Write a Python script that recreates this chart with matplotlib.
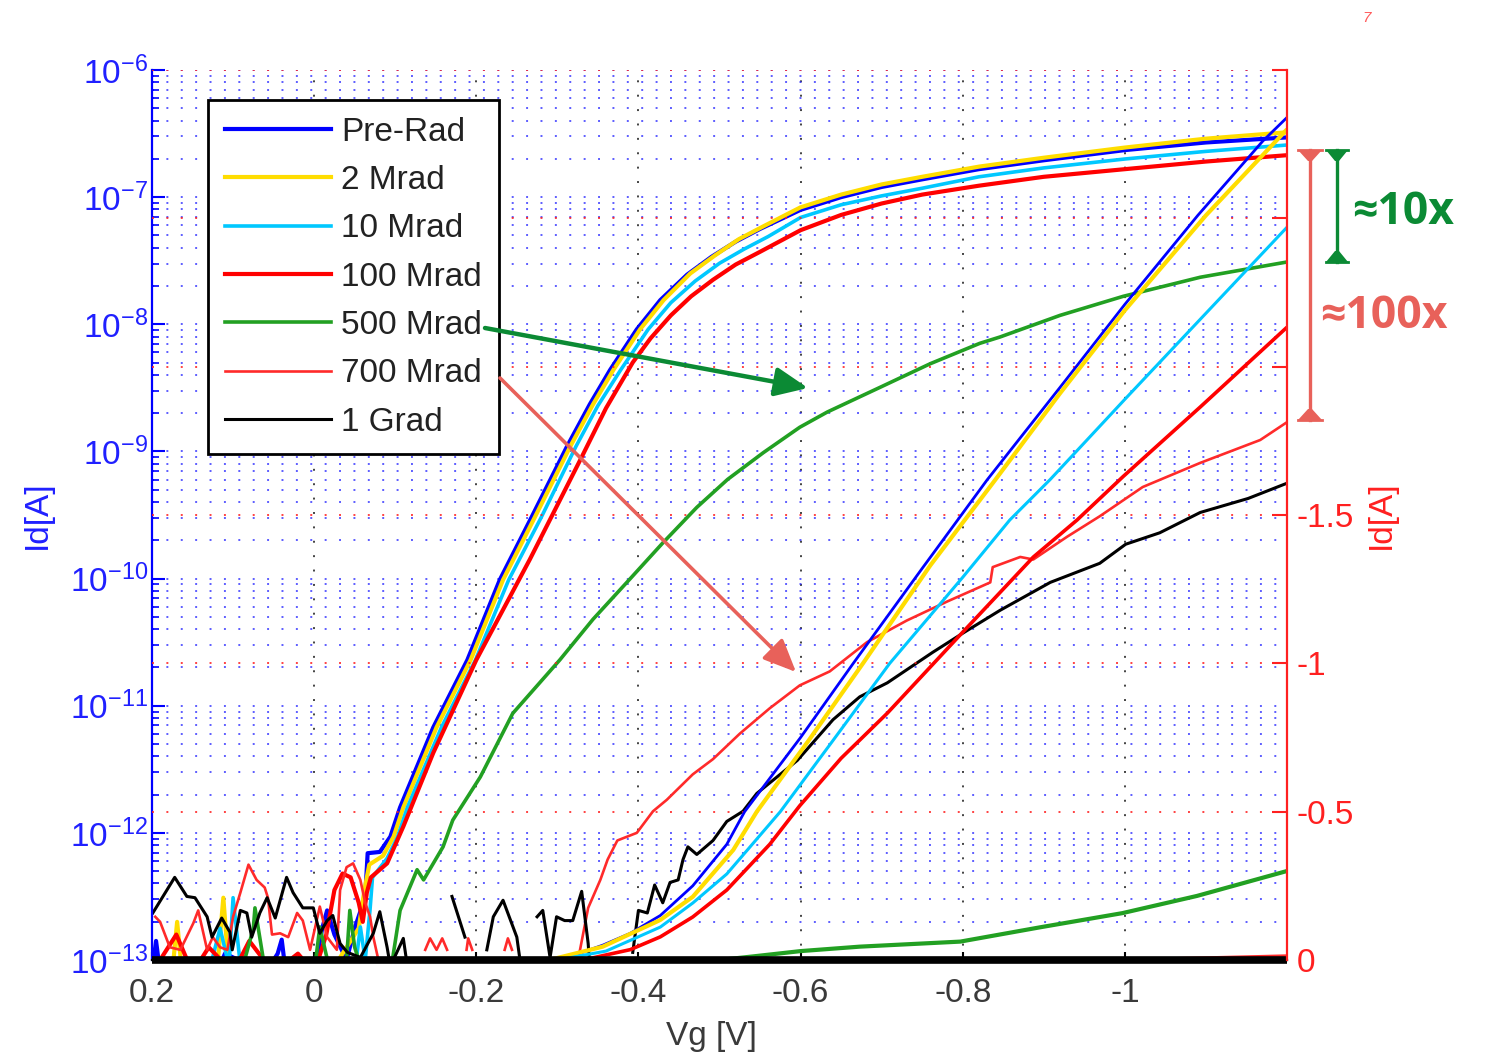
import numpy as np
import matplotlib
matplotlib.use('Agg')
import matplotlib.pyplot as plt
from matplotlib.lines import Line2D
from matplotlib.patches import FancyArrowPatch, Polygon
from matplotlib.ticker import LogLocator, NullFormatter

plt.rcParams['font.family'] = ['Liberation Sans', 'DejaVu Sans']
plt.rcParams['axes.unicode_minus'] = False
plt.rcParams['mathtext.fontset'] = 'custom'
plt.rcParams['mathtext.rm'] = 'Liberation Sans'
plt.rcParams['mathtext.default'] = 'regular'

nan = np.nan

# ---------------- data: log10(Id) on left (log) axis ----------------
labels = ['Pre-Rad', '2 Mrad', '10 Mrad', '100 Mrad', '500 Mrad', '700 Mrad', '1 Grad']

prerad_log_vg = [0.2, 0.195, 0.19, 0.18, 0.12, 0.11, 0.06, 0.045, 0.04, 0.035,
                 0.0, -0.01, -0.016, -0.025, -0.04, -0.05, -0.058, -0.063,
                 -0.066, -0.081, -0.094, -0.106, -0.147, -0.189, -0.229, -0.268, -0.312, -0.34, -0.365,
                 -0.398, -0.427, -0.46, -0.49, -0.52, -0.55, -0.60, -0.65, -0.70, -0.75, -0.82,
                 -0.9, -1.0, -1.1, -1.2]
prerad_log_id = [-13.1, -12.85, -13.1, -13.1, -13.1, -12.95, -13.1, -12.95, -12.84, -13.1,
                 -13.1, -12.75, -12.61, -12.8, -13.0, -12.75, -12.6, -12.5,
                 -12.16, -12.15, -12.03, -11.80, -11.17, -10.64, -10.01, -9.52, -8.96, -8.63, -8.36,
                 -8.04, -7.81, -7.61, -7.47, -7.35, -7.25, -7.10, -7.00, -6.92, -6.86, -6.78,
                 -6.71, -6.63, -6.57, -6.53]

mrad2_log_vg = [0.2, 0.175, 0.169, 0.163, 0.12, 0.112, 0.105, 0.06, 0.0, -0.03, -0.055, -0.062,
                -0.068, -0.085, -0.098, -0.11, -0.151, -0.193, -0.233, -0.272, -0.316, -0.344, -0.369,
                -0.402, -0.431, -0.464, -0.494, -0.524, -0.554, -0.60, -0.65, -0.70, -0.75, -0.82,
                -0.9, -1.0, -1.1, -1.2]
mrad2_log_id = [-13.1, -13.1, -12.70, -13.1, -13.1, -12.51, -13.1, -13.1, -13.1, -13.0, -12.75, -12.45,
                -12.25, -12.18, -12.03, -11.80, -11.17, -10.64, -10.01, -9.52, -8.96, -8.63, -8.36,
                -8.04, -7.81, -7.60, -7.46, -7.33, -7.23, -7.08, -6.98, -6.90, -6.84, -6.76,
                -6.69, -6.61, -6.54, -6.49]

mrad10_log_vg = [0.2, 0.13, 0.116, 0.105, 0.1, 0.09, 0.0, -0.05, -0.057, -0.063, -0.069,
                 -0.072, -0.09, -0.103, -0.115, -0.157, -0.199, -0.24, -0.28, -0.323, -0.35, -0.378,
                 -0.412, -0.44, -0.47, -0.50, -0.53, -0.56, -0.60, -0.65, -0.70, -0.75, -0.82,
                 -0.9, -1.0, -1.1, -1.2]
mrad10_log_id = [-13.1, -13.1, -12.75, -13.05, -12.51, -13.1, -13.1, -13.1, -12.74, -13.0, -12.6,
                 -12.35, -12.2, -12.03, -11.80, -11.17, -10.64, -10.01, -9.52, -8.96, -8.64, -8.36,
                 -8.04, -7.83, -7.66, -7.52, -7.41, -7.31, -7.16, -7.06, -6.99, -6.93, -6.84,
                 -6.77, -6.70, -6.64, -6.59]

mrad100_log_vg = [0.2, 0.17, 0.15, 0.13, 0.1, 0.08, 0.05, 0.02, 0.0, -0.015, -0.025, -0.035,
                  -0.045, -0.055, -0.06, -0.065, -0.07, -0.09, -0.11, -0.147, -0.2, -0.266,
                  -0.328, -0.36, -0.393, -0.415, -0.44, -0.465, -0.492, -0.52, -0.55, -0.6, -0.65,
                  -0.7, -0.75, -0.82, -0.9, -1.0, -1.1, -1.2]
mrad100_log_id = [-13.1, -12.8, -13.1, -12.9, -13.1, -12.85, -13.1, -12.95, -13.1, -12.8, -12.45, -12.32,
                  -12.35, -12.55, -12.7, -12.47, -12.35, -12.24, -11.95, -11.37, -10.64, -9.85,
                  -9.07, -8.66, -8.30, -8.11, -7.93, -7.78, -7.65, -7.53, -7.43, -7.26, -7.14,
                  -7.05, -6.98, -6.91, -6.84, -6.78, -6.72, -6.67]

mrad500_log_vg = [0.2, 0.15, 0.09, 0.075, 0.073, 0.06, 0.0, -0.007, -0.02, -0.04, -0.044, -0.05,
                  -0.06, -0.09, -0.097, -0.106, -0.127, -0.135, -0.159, -0.171, -0.205, -0.245,
                  -0.303, -0.344, -0.39, -0.43, -0.472, -0.51, -0.554, -0.599, -0.633, -0.70,
                  -0.76, -0.821, -0.846, -0.92, -0.998, -1.093, -1.2]
mrad500_log_id = [-13.1, -13.1, -13.1, -12.75, -12.59, -13.1, -13.1, -12.74, -13.1, -13.0, -12.61, -12.9,
                  -13.1, -13.1, -12.98, -12.61, -12.29, -12.37, -12.11, -11.90, -11.56, -11.06,
                  -10.64, -10.32, -10.0, -9.72, -9.44, -9.22, -9.01, -8.81, -8.69, -8.49,
                  -8.31, -8.15, -8.10, -7.93, -7.78, -7.63, -7.51]

mrad700_log_vg = [0.196, 0.190, 0.178, 0.165, 0.149, 0.143, 0.132, 0.125, 0.116, 0.107, 0.100,
                  0.091, 0.081, 0.071, 0.061, 0.057, 0.052, 0.042, 0.032, 0.021, 0.014, 0.005,
                  -0.007, -0.016, -0.028, -0.032, -0.040, -0.048, -0.057, -0.063, -0.069, -0.073,
                  -0.081, nan, -0.137, -0.143, -0.151, -0.158, -0.164, nan, -0.188, -0.190, -0.195,
                  nan, -0.235, -0.239, -0.244, nan, -0.324, -0.338, -0.353, -0.362, -0.374, -0.398,
                  -0.418, -0.435, -0.467, -0.492, -0.525, -0.562, -0.599, -0.636, -0.682, -0.731,
                  -0.781, -0.834, -0.837, -0.871, -0.887, -0.929, -0.969, -1.022, -1.093, -1.167, -1.2]
mrad700_log_id = [-12.66, -12.70, -12.90, -12.92, -12.71, -12.61, -12.92, -12.82, -12.90, -12.92, -12.66,
                  -12.47, -12.25, -12.37, -12.43, -12.51, -12.80, -12.79, -12.82, -12.63, -12.69, -12.92,
                  -12.58, -12.82, -12.92, -12.45, -12.27, -12.24, -12.37, -12.55, -12.66, -12.82,
                  -13.05, nan, -12.92, -12.83, -12.92, -12.83, -12.92, nan, -12.92, -12.83, -12.92,
                  nan, -12.92, -12.83, -12.92, nan, -13.05, -12.59, -12.37, -12.21, -12.06, -12.0,
                  -11.83, -11.74, -11.54, -11.42, -11.22, -11.02, -10.84, -10.73, -10.50, -10.33,
                  -10.18, -10.03, -9.91, -9.83, -9.85, -9.67, -9.51, -9.28, -9.09, -8.91, -8.77]

grad1_log_vg = [0.199, 0.172, 0.157, 0.147, 0.132, 0.126, 0.114, 0.104, 0.101, 0.091, 0.083,
                0.077, 0.067, 0.058, 0.048, 0.034, 0.026, 0.014, 0.001, -0.007, -0.016, -0.023,
                -0.032, -0.041, -0.057, -0.073, -0.081, -0.090, -0.094, -0.110, -0.115, nan,
                -0.170, -0.186, nan, -0.213, -0.221, -0.233, -0.250, -0.255, nan,
                -0.275, -0.282, -0.291, -0.299, -0.309, -0.319, -0.330, -0.338, -0.340, nan,
                -0.393, -0.400, -0.411, -0.420, -0.430, -0.439, -0.449, -0.455, -0.461, -0.472,
                -0.492, -0.509, -0.529, -0.546, -0.596, -0.640, -0.673, -0.707, -0.763, -0.800,
                -0.846, -0.908, -0.969, -1.001, -1.043, -1.093, -1.152, -1.2]
grad1_log_id = [-12.63, -12.35, -12.50, -12.51, -12.66, -12.82, -12.67, -12.78, -12.92, -12.61, -12.63,
                -12.82, -12.63, -12.51, -12.67, -12.35, -12.47, -12.59, -12.59, -12.79, -12.69, -12.65,
                -12.87, -12.94, -12.98, -12.79, -12.62, -12.90, -13.05, -12.83, -13.05, nan,
                -12.50, -12.82, nan, -12.92, -12.66, -12.53, -12.82, -13.05, nan,
                -12.66, -12.61, -12.98, -12.66, -12.69, -12.69, -12.46, -12.87, -13.05, nan,
                -12.94, -12.61, -12.63, -12.41, -12.55, -12.39, -12.37, -12.21, -12.11, -12.17,
                -12.06, -11.91, -11.83, -11.69, -11.43, -11.11, -10.93, -10.82, -10.58, -10.43,
                -10.25, -10.03, -9.88, -9.73, -9.64, -9.48, -9.37, -9.25]

# ---------------- data: Id (x1e-7 A) on right (linear) axis ----------------
prerad_lin_vg = [0.2, -0.29, -0.33, -0.356, -0.39, -0.427, -0.467, -0.509, -0.531, -0.6, -0.665,
                 -0.75, -0.83, -0.92, -1.0, -1.09, -1.17, -1.2]
prerad_lin_id = [0, 0, -0.025, -0.05, -0.09, -0.15, -0.25, -0.39, -0.5, -0.75, -1.0,
                 -1.32, -1.618, -1.93, -2.21, -2.51, -2.76, -2.84]
mrad2_lin_vg = [0.2, -0.29, -0.356, -0.427, -0.467, -0.517, -0.546, -0.61, -0.677, -0.76, -0.84,
                -0.92, -1.0, -1.1, -1.2]
mrad2_lin_id = [0, 0, -0.045, -0.135, -0.213, -0.371, -0.5, -0.74, -1.0, -1.33, -1.618,
                -1.91, -2.19, -2.51, -2.80]
mrad10_lin_vg = [0.2, -0.30, -0.36, -0.427, -0.467, -0.509, -0.575, -0.64, -0.71, -0.8, -0.858,
                 -0.908, -1.0, -1.1, -1.2]
mrad10_lin_id = [0, 0, -0.03, -0.111, -0.192, -0.29, -0.5, -0.74, -1.0, -1.29, -1.483,
                 -1.62, -1.89, -2.18, -2.47]
mrad100_lin_vg = [0.2, -0.3, -0.34, -0.39, -0.427, -0.467, -0.509, -0.562, -0.599, -0.65, -0.707,
                  -0.8, -0.887, -0.941, -0.998, -1.093, -1.2]
mrad100_lin_id = [0, 0, -0.005, -0.035, -0.078, -0.145, -0.236, -0.39, -0.52, -0.68, -0.832,
                  -1.105, -1.358, -1.483, -1.63, -1.864, -2.133]
mrad500_lin_vg = [0.2, -0.5, -0.541, -0.6, -0.673, -0.797, -0.895, -0.997, -1.089, -1.2]
mrad500_lin_id = [0, 0, -0.012, -0.03, -0.045, -0.062, -0.11, -0.158, -0.216, -0.30]
mrad700_lin_vg = [0.2, -1.05, -1.2]
mrad700_lin_id = [0, -0.005, -0.015]
grad1_lin_vg = [0.2, -1.2]
grad1_lin_id = [0, 0]

x_ticks = [0.2, 0, -0.2, -0.4, -0.6, -0.8, -1.0]
x_ticklabels = ['0.2', '0', '-0.2', '-0.4', '-0.6', '-0.8', '-1']
log_decades = [-13, -12, -11, -10, -9, -8, -7, -6]
r_ticks = [0, -0.5, -1, -1.5, -2, -2.5, -3]
r_ticklabels = ['0', '-0.5', '-1', '-1.5', '', '', '']

# ---------------- styles ----------------
colors = ['#0000FF', '#FFDD00', '#00C8FF', '#FF0000', '#22A022', '#FF2A2A', '#000000']
log_lw = [3.0, 3.0, 2.6, 3.0, 2.6, 1.9, 2.2]
lin_lw = [2.0, 3.0, 2.2, 2.6, 3.0, 1.8, 5.5]
GREEN = '#0B8A34'
SALMON = '#E8615A'

W, H = 1488, 1056
fig = plt.figure(figsize=(W / 100, H / 100), dpi=100)
ax1 = fig.add_axes([152 / W, 1 - 960 / H, (1287 - 152) / W, (960 - 70) / H])
ax2 = ax1.twinx()

log_data = [(prerad_log_vg, prerad_log_id), (mrad2_log_vg, mrad2_log_id),
            (mrad10_log_vg, mrad10_log_id), (mrad100_log_vg, mrad100_log_id),
            (mrad500_log_vg, mrad500_log_id), (mrad700_log_vg, mrad700_log_id),
            (grad1_log_vg, grad1_log_id)]
lin_data = [(prerad_lin_vg, prerad_lin_id), (mrad2_lin_vg, mrad2_lin_id),
            (mrad10_lin_vg, mrad10_lin_id), (mrad100_lin_vg, mrad100_lin_id),
            (mrad500_lin_vg, mrad500_lin_id), (mrad700_lin_vg, mrad700_lin_id),
            (grad1_lin_vg, grad1_lin_id)]

handles = []
for (vg, lg), c, lw, lab in zip(log_data, colors, log_lw, labels):
    h, = ax1.plot(vg, 10.0 ** np.array(lg, dtype=float), color=c, lw=lw, label=lab,
                  solid_joinstyle='round')
    handles.append(h)

# linear curves; the flat 1 Grad trace at 0 is drawn last (thick line along the bottom)
for i in [0, 1, 2, 3, 4, 5, 6]:
    vg, lv = lin_data[i]
    ax2.plot(vg, lv, color=colors[i], lw=lin_lw[i], clip_on=(i != 6),
             solid_capstyle='butt', solid_joinstyle='round')

ax1.set_yscale('log')
ax1.set_ylim(1e-13, 1e-6)
ax1.set_xlim(0.2, -1.2)
ax2.set_ylim(0, -3)

ax1.set_xticks(x_ticks)
ax1.set_xticklabels(x_ticklabels)
ax1.set_yticks([10.0 ** k for k in log_decades])
ax1.set_yticklabels([r'$10^{%d}$' % k for k in log_decades])
ax1.yaxis.set_minor_locator(LogLocator(base=10, subs=np.arange(2, 10), numticks=100))
ax1.yaxis.set_minor_formatter(NullFormatter())
ax2.set_yticks(r_ticks)
ax2.set_yticklabels(r_ticklabels)

dot = (0, (1, 6.4))
ax1.grid(True, axis='y', which='both', color='#2828FF', ls=dot, lw=1.4, alpha=0.75)
ax1.grid(True, axis='x', which='major', color='#222222', ls=dot, lw=1.4, alpha=0.85)
ax2.grid(True, axis='y', which='major', color='#FF2020', ls=dot, lw=1.4, alpha=0.85)
ax1.set_axisbelow(True)
ax2.set_axisbelow(True)

for s in ['top', 'right']:
    ax1.spines[s].set_visible(False)
for s in ['top', 'left', 'bottom']:
    ax2.spines[s].set_visible(False)
ax1.spines['left'].set_color('#0000FF')
ax1.spines['left'].set_linewidth(1.6)
ax1.spines['bottom'].set_color('black')
ax1.spines['bottom'].set_linewidth(1.6)
ax2.spines['right'].set_color('#FF2020')
ax2.spines['right'].set_linewidth(1.6)

ax1.tick_params(axis='y', which='major', direction='in', length=9, width=1.5,
                color='#0000FF', labelcolor='#2020FF', labelsize=24, pad=3)
ax1.tick_params(axis='y', which='minor', direction='in', length=5, width=1.2, color='#0000FF')
ax1.tick_params(axis='x', which='major', direction='in', length=6, width=1.5,
                color='black', labelcolor='#3A3A3A', labelsize=24, pad=13)
ax2.tick_params(axis='y', which='major', direction='in', length=11, width=1.5,
                color='#FF2020', labelcolor='#FF2020', labelsize=24, pad=7)

ax1.set_xlabel('Vg [V]', fontsize=24, color='#3A3A3A')
ax1.xaxis.set_label_coords(0.493, -0.068)
ax1.set_ylabel('Id[A]', fontsize=24, color='#2020FF')
ax1.yaxis.set_label_coords(-0.087, 0.5)
ax2.set_ylabel('Id[A]', fontsize=24, color='#FF2020')
ax2.yaxis.set_label_coords(1.0696, 0.5)

leg = ax2.legend(handles, labels, loc='upper left', bbox_to_anchor=(0.0493, 0.9663),
                 borderaxespad=0, fontsize=24, frameon=True, fancybox=False,
                 edgecolor='black', framealpha=1, handlelength=3.2, handletextpad=0.3,
                 labelspacing=0.52, borderpad=0.5)
leg.get_frame().set_linewidth(2.0)
for t in leg.get_texts():
    t.set_color('#222222')


# ---------------- annotations (figure pixel positions) ----------------
def fp(x, y):
    return (x / W, 1 - y / H)


fig.add_artist(FancyArrowPatch(fp(485, 328), fp(808, 388), transform=fig.transFigure,
                               arrowstyle='-|>,head_length=0.5,head_width=0.22',
                               mutation_scale=40, color=GREEN, lw=3.2,
                               shrinkA=0, shrinkB=0))
fig.add_artist(FancyArrowPatch(fp(500, 378), fp(796, 672), transform=fig.transFigure,
                               arrowstyle='-|>,head_length=0.5,head_width=0.22',
                               mutation_scale=40, color=SALMON, lw=2.6,
                               shrinkA=0, shrinkB=0))


def bracket(x, y0, y1, half, color, lw):
    fig.add_artist(Line2D([x / W, x / W], [1 - y0 / H, 1 - y1 / H],
                          transform=fig.transFigure, color=color, lw=lw))
    for y, s in ((y0, 1), (y1, -1)):
        fig.add_artist(Polygon([fp(x - half, y), fp(x + half, y), fp(x + 2, y + s * 11),
                                fp(x - 2, y + s * 11)], closed=True,
                               transform=fig.transFigure, color=color, lw=0))
        fig.add_artist(Line2D([(x - half) / W, (x + half) / W], [1 - y / H, 1 - y / H],
                              transform=fig.transFigure, color=color, lw=2))


bracket(1310, 150, 420, 12, SALMON, 2.4)
bracket(1337, 150, 262, 11, GREEN, 2.4)

fig.text(1352 / W, 1 - 213 / H, '\u224810x', color=GREEN, fontsize=32, fontweight='bold',
         family=['Open Sans', 'DejaVu Sans'], ha='left', va='center')
fig.text(1320 / W, 1 - 316 / H, '\u2248100x', color=SALMON, fontsize=32, fontweight='bold',
         family=['Open Sans', 'DejaVu Sans'], ha='left', va='center')
fig.text(1367 / W, 1 - 18 / H, '7', color='#FF3030', fontsize=11, ha='center', va='center',
         style='italic', alpha=0.8)

fig.savefig('out.png', dpi=100, facecolor='white')
